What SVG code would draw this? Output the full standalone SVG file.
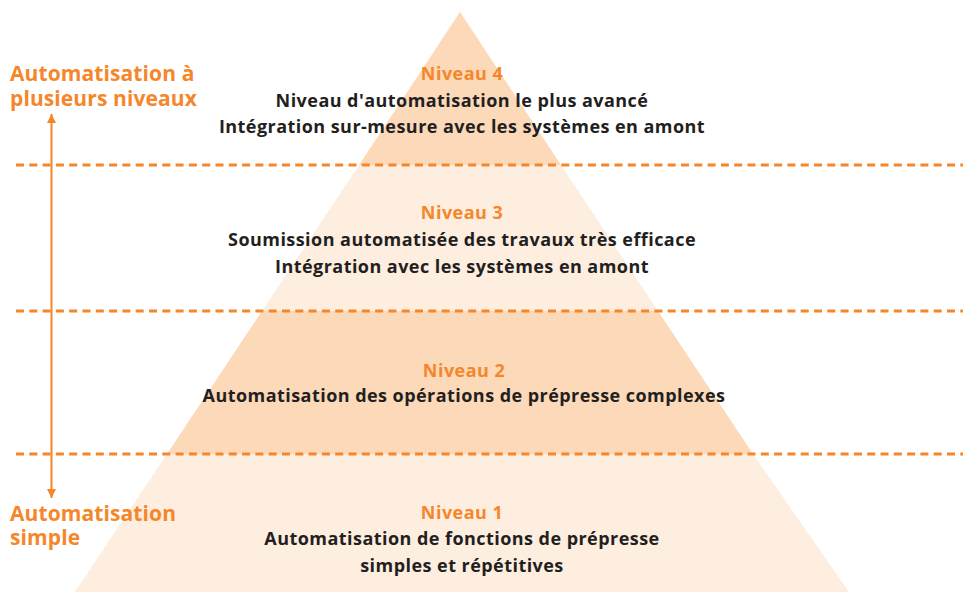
<svg xmlns="http://www.w3.org/2000/svg" width="971" height="592" viewBox="0 0 971 592">
<defs>
<style>
.dark{fill:#fcd9b8}
.light{fill:#fdeee0}
.dash{stroke:#f5862a;stroke-width:3;stroke-dasharray:8 5.3;fill:none}
.lvl{font-family:"Open Sans","Lato",sans-serif;font-weight:bold;font-size:18px;letter-spacing:0.45px;fill:#f5862a;text-anchor:middle}
.desc{font-family:"Open Sans","Lato",sans-serif;font-weight:bold;font-size:18px;letter-spacing:0.45px;fill:#231f20;text-anchor:middle}
.side{font-family:"Open Sans","Lato",sans-serif;font-weight:bold;font-size:21px;letter-spacing:0.1px;fill:#f5862a}
</style>
<marker id="ah" viewBox="0 0 12 16" refX="12" refY="6" markerWidth="12" markerHeight="12" markerUnits="userSpaceOnUse" orient="auto">
<path d="M0,0 L12,6 L0,12 z" fill="#f5862a"/>
</marker>
</defs>
<g id="pyramid">
<polygon id="band4" class="dark" points="460,12 359,165 561,165"/>
<polygon id="band3" class="light" points="359,165 561,165 658,311 262,311"/>
<polygon id="band2" class="dark" points="262,311 658,311 753,454 167,454"/>
<polygon id="band1" class="light" points="167,454 753,454 849,592 75,592"/>
</g>
<g id="connectors">
<line class="dash" x1="16" y1="165" x2="963" y2="165"/>
<line class="dash" x1="16" y1="311" x2="963" y2="311"/>
<line class="dash" x1="16" y1="454" x2="963" y2="454"/>
<line x1="51.5" y1="300" x2="51.5" y2="114" stroke="#f5862a" stroke-width="2" marker-end="url(#ah)"/>
<line x1="51.5" y1="300" x2="51.5" y2="498" stroke="#f5862a" stroke-width="2" marker-end="url(#ah)"/>
</g>
<g id="side-top">
<text class="side" x="10" y="81">Automatisation à</text>
<text class="side" x="10" y="106">plusieurs niveaux</text>
</g>
<g id="side-bottom">
<text class="side" x="10" y="521">Automatisation</text>
<text class="side" x="10" y="545">simple</text>
</g>
<g id="level4">
<text class="lvl" x="462" y="80">Niveau 4</text>
<text class="desc" x="462" y="107">Niveau d'automatisation le plus avancé</text>
<text class="desc" x="462" y="133">Intégration sur-mesure avec les systèmes en amont</text>
</g>
<g id="level3">
<text class="lvl" x="462" y="219">Niveau 3</text>
<text class="desc" x="462" y="246">Soumission automatisée des travaux très efficace</text>
<text class="desc" x="462" y="273">Intégration avec les systèmes en amont</text>
</g>
<g id="level2">
<text class="lvl" x="464" y="377">Niveau 2</text>
<text class="desc" x="464" y="402">Automatisation des opérations de prépresse complexes</text>
</g>
<g id="level1">
<text class="lvl" x="462" y="519">Niveau 1</text>
<text class="desc" x="462" y="545">Automatisation de fonctions de prépresse</text>
<text class="desc" x="462" y="572">simples et répétitives</text>
</g>
</svg>
